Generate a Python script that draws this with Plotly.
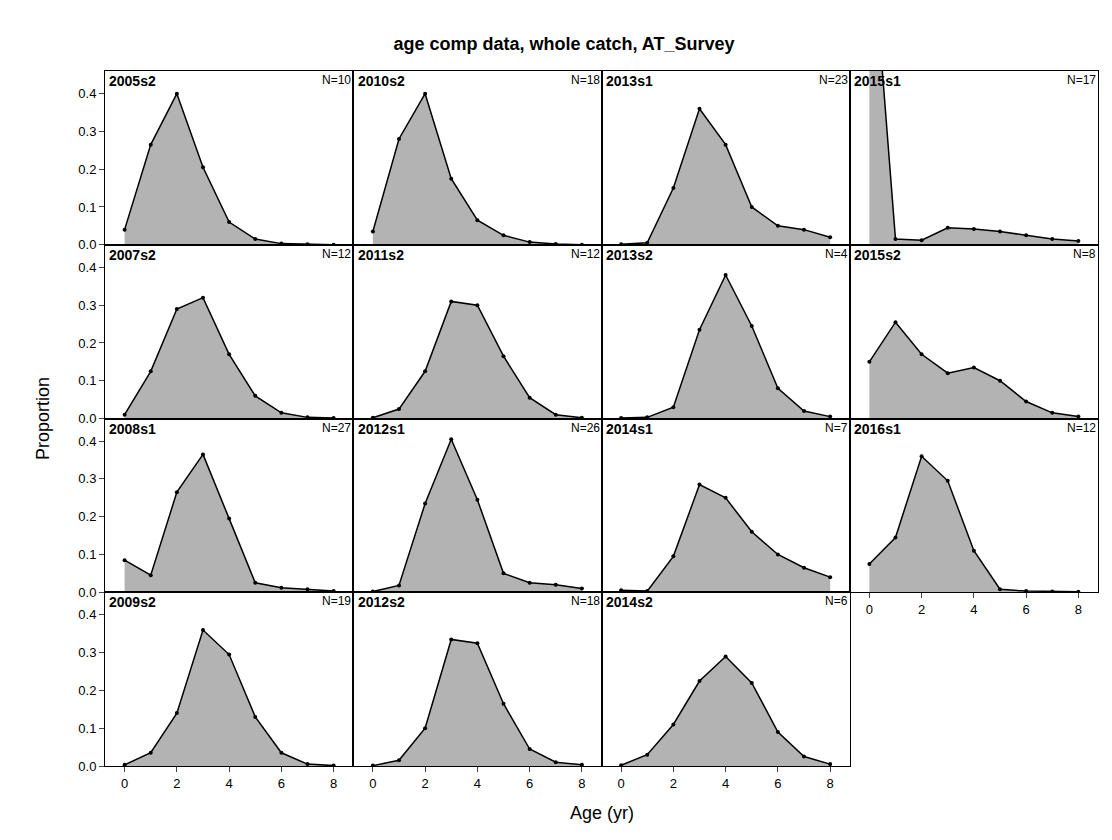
import plotly.graph_objects as go
from plotly.subplots import make_subplots

ages = [0, 1, 2, 3, 4, 5, 6, 7, 8]

# panel label, N, proportions by age; laid out column by column
panels = [
    ("2005s2", 10, [0.04, 0.265, 0.40, 0.205, 0.06, 0.015, 0.003, 0.001, 0.0]),
    ("2007s2", 12, [0.01, 0.125, 0.29, 0.32, 0.17, 0.06, 0.015, 0.003, 0.001]),
    ("2008s1", 27, [0.085, 0.045, 0.265, 0.365, 0.195, 0.025, 0.012, 0.008, 0.003]),
    ("2009s2", 19, [0.003, 0.035, 0.14, 0.36, 0.295, 0.13, 0.035, 0.005, 0.001]),
    ("2010s2", 18, [0.035, 0.28, 0.40, 0.175, 0.065, 0.025, 0.007, 0.002, 0.0]),
    ("2011s2", 12, [0.002, 0.025, 0.125, 0.31, 0.30, 0.165, 0.055, 0.01, 0.002]),
    ("2012s1", 26, [0.002, 0.018, 0.235, 0.405, 0.245, 0.05, 0.025, 0.02, 0.01]),
    ("2012s2", 18, [0.001, 0.015, 0.1, 0.335, 0.325, 0.165, 0.045, 0.01, 0.003]),
    ("2013s1", 23, [0.001, 0.005, 0.15, 0.36, 0.265, 0.10, 0.05, 0.04, 0.02]),
    ("2013s2", 4, [0.001, 0.003, 0.03, 0.235, 0.38, 0.245, 0.08, 0.02, 0.005]),
    ("2014s1", 7, [0.005, 0.003, 0.095, 0.285, 0.25, 0.16, 0.10, 0.065, 0.04]),
    ("2014s2", 6, [0.002, 0.03, 0.11, 0.225, 0.29, 0.22, 0.09, 0.025, 0.005]),
    ("2015s1", 17, [0.9, 0.015, 0.012, 0.045, 0.042, 0.035, 0.025, 0.015, 0.01]),
    ("2015s2", 8, [0.15, 0.255, 0.17, 0.12, 0.135, 0.10, 0.045, 0.015, 0.005]),
    ("2016s1", 12, [0.075, 0.145, 0.36, 0.295, 0.11, 0.008, 0.003, 0.002, 0.001]),
]

fig = make_subplots(rows=4, cols=4, horizontal_spacing=0, vertical_spacing=0)

for i, (lab, n, vals) in enumerate(panels):
    r = i % 4 + 1
    c = i // 4 + 1
    fig.add_trace(go.Scatter(x=ages, y=vals, mode="lines+markers", fill="tozeroy",
                             fillcolor="#b3b3b3", line=dict(color="black", width=1.5),
                             marker=dict(size=4, color="black"), showlegend=False),
                  row=r, col=c)
    k = (r - 1) * 4 + c
    ax = "" if k == 1 else str(k)
    fig.add_annotation(text="<b>" + lab + "</b>", xref=f"x{ax} domain", yref=f"y{ax} domain",
                       x=0.01, y=1.0, xanchor="left", yanchor="top", showarrow=False,
                       font=dict(size=14, color="black"))
    fig.add_annotation(text=f"N={n}", xref=f"x{ax} domain", yref=f"y{ax} domain",
                       x=1.0, y=1.0, xanchor="right", yanchor="top", showarrow=False,
                       font=dict(size=12, color="black"))

for r in range(1, 5):
    for c in range(1, 5):
        show_x = r == 4 or (r == 3 and c == 4)
        visible = not (r == 4 and c == 4)
        fig.update_xaxes(range=[-0.75, 8.75], tickvals=[0, 2, 4, 6, 8], showticklabels=show_x,
                         ticks="outside" if show_x else "", showline=visible, mirror=True,
                         linecolor="black", showgrid=False, zeroline=False, visible=visible,
                         tickfont=dict(size=13), row=r, col=c)
        fig.update_yaxes(range=[0, 0.46], tickvals=[0, 0.1, 0.2, 0.3, 0.4], tickformat=".1f",
                         showticklabels=c == 1, ticks="outside" if c == 1 else "",
                         showline=visible, mirror=True, linecolor="black", showgrid=False,
                         zeroline=False, visible=visible, tickfont=dict(size=13), row=r, col=c)

fig.update_layout(
    width=1112, height=840, plot_bgcolor="white", paper_bgcolor="white",
    margin=dict(l=97, r=22, t=63, b=82),
    font=dict(family="Liberation Sans, Arial, sans-serif", color="black"),
    title=dict(text="<b>age comp data, whole catch, AT_Survey</b>", x=0.5, y=0.965,
               xanchor="center", font=dict(size=18)),
)
fig.add_annotation(text="Age (yr)", xref="paper", yref="paper", x=0.5, y=-0.085,
                   showarrow=False, font=dict(size=18))
fig.add_annotation(text="Proportion", xref="paper", yref="paper", x=-0.075, y=0.5,
                   textangle=-90, showarrow=False, font=dict(size=18))

fig.write_html("out.html")
